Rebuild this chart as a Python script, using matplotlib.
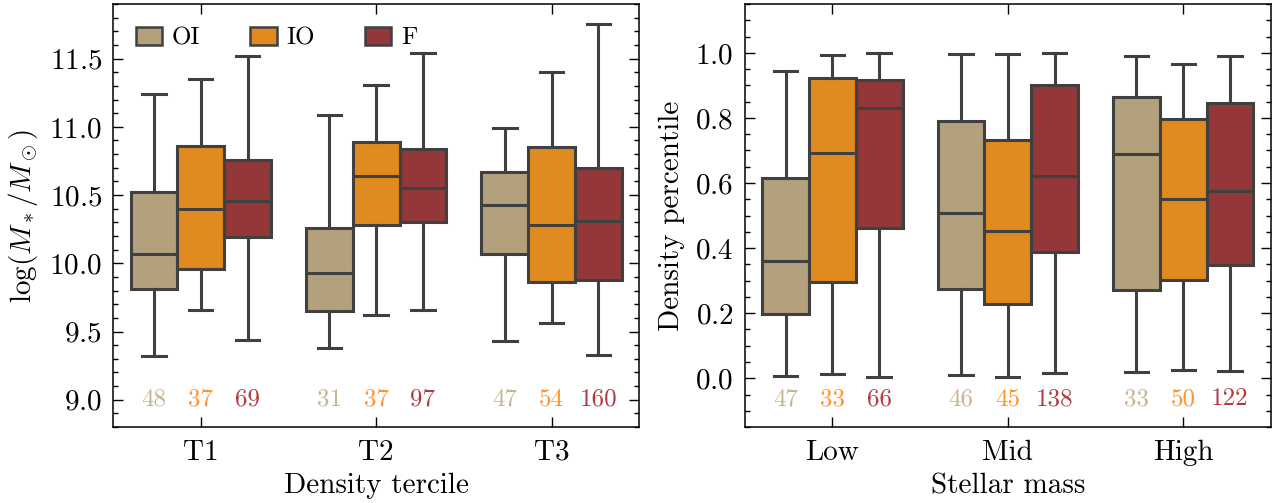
import numpy as np
import matplotlib
matplotlib.use('Agg')
import matplotlib.pyplot as plt
import matplotlib.transforms as mtransforms
from matplotlib.patches import Patch
from matplotlib.ticker import MultipleLocator

plt.rcParams.update({
    'font.family': 'serif',
    'font.serif': ['cmr10'],
    'mathtext.fontset': 'cm',
    'axes.formatter.use_mathtext': True,
    'font.size': 21,
    'axes.linewidth': 1.1,
})

# environments (hue) and their colours
hues = ['OI', 'IO', 'F']
box_colors = ['#b3a07c', '#e08a20', '#933739']
count_colors = ['#c8b491', '#ff9428', '#b23b41']
edge = '#404040'

# left panel: stellar mass per density tercile (rows = OI, IO, F)
terciles = ['T1', 'T2', 'T3']
mass_lo = [[9.32, 9.38, 9.43], [9.66, 9.62, 9.56], [9.44, 9.66, 9.33]]
mass_q1 = [[9.81, 9.65, 10.07], [9.96, 10.28, 9.86], [10.19, 10.30, 9.88]]
mass_med = [[10.07, 9.93, 10.43], [10.40, 10.64, 10.28], [10.46, 10.55, 10.31]]
mass_q3 = [[10.52, 10.26, 10.67], [10.86, 10.89, 10.85], [10.76, 10.84, 10.70]]
mass_hi = [[11.24, 11.09, 10.99], [11.35, 11.31, 11.40], [11.52, 11.54, 11.75]]
mass_counts = [[48, 31, 47], [37, 37, 54], [69, 97, 160]]

# right panel: density percentile per stellar mass bin (rows = OI, IO, F)
mass_bins = ['Low', 'Mid', 'High']
dens_lo = [[0.006, 0.009, 0.020], [0.012, 0.004, 0.026], [0.003, 0.015, 0.023]]
dens_q1 = [[0.196, 0.274, 0.272], [0.295, 0.228, 0.302], [0.462, 0.388, 0.348]]
dens_med = [[0.360, 0.508, 0.689], [0.692, 0.452, 0.550], [0.831, 0.621, 0.574]]
dens_q3 = [[0.615, 0.790, 0.865], [0.923, 0.732, 0.797], [0.917, 0.900, 0.845]]
dens_hi = [[0.945, 0.997, 0.990], [0.994, 0.997, 0.966], [0.999, 0.998, 0.990]]
dens_counts = [[47, 46, 33], [33, 45, 50], [66, 138, 122]]

width = 0.8 / len(hues)


def draw_boxes(ax, groups, lo, q1, med, q3, hi, counts):
    line = dict(color=edge, linewidth=2.2)
    trans = mtransforms.blended_transform_factory(ax.transData, ax.transAxes)
    for j, hue in enumerate(hues):
        stats = []
        pos = []
        for i in range(len(groups)):
            stats.append(dict(whislo=lo[j][i], q1=q1[j][i], med=med[j][i],
                              q3=q3[j][i], whishi=hi[j][i], fliers=[]))
            pos.append(i + (j - 1) * width)
        ax.bxp(stats, positions=pos, widths=width, capwidths=width / 2,
               patch_artist=True, showfliers=False, manage_ticks=False,
               boxprops=dict(facecolor=box_colors[j], edgecolor=edge, linewidth=2.2),
               medianprops=line, whiskerprops=line, capprops=line)
        for x, n in zip(pos, counts[j]):
            ax.text(x, 0.066, str(n), transform=trans, ha='center', va='center',
                    fontsize=18, color=count_colors[j])
    ax.set_xticks(range(len(groups)))
    ax.set_xticklabels(groups)
    ax.set_xlim(-0.5, len(groups) - 0.5)
    ax.tick_params(which='both', direction='in', top=True, right=True)
    ax.tick_params(which='major', length=7, width=1.0)
    ax.tick_params(which='minor', length=3.5, width=1.0)
    ax.tick_params(axis='x', which='minor', bottom=False, top=False)
    ax.tick_params(axis='x', pad=9)
    ax.tick_params(axis='y', pad=8)
    ax.xaxis.labelpad = 5
    ax.yaxis.labelpad = 7


fig, (ax1, ax2) = plt.subplots(1, 2, figsize=(12.74, 5.03), dpi=100)
fig.subplots_adjust(left=0.0887, right=0.9976, top=0.992, bottom=0.151, wspace=0.2)

draw_boxes(ax1, terciles, mass_lo, mass_q1, mass_med, mass_q3, mass_hi, mass_counts)
ax1.set_ylim(8.8, 11.9)
ax1.yaxis.set_major_locator(MultipleLocator(0.5))
ax1.yaxis.set_minor_locator(MultipleLocator(0.1))
ax1.set_xlabel('Density tercile')
ax1.set_ylabel(r'$\log(M_*/M_\odot)$')

draw_boxes(ax2, mass_bins, dens_lo, dens_q1, dens_med, dens_q3, dens_hi, dens_counts)
ax2.set_ylim(-0.15, 1.15)
ax2.yaxis.set_major_locator(MultipleLocator(0.2))
ax2.yaxis.set_minor_locator(MultipleLocator(0.05))
ax2.set_xlabel('Stellar mass')
ax2.set_ylabel('Density percentile')

handles = [Patch(facecolor=c, edgecolor=edge, linewidth=1.8, label=h)
           for h, c in zip(hues, box_colors)]
ax1.legend(handles=handles, loc='upper left', ncol=3, frameon=False, fontsize=18,
           handlelength=1.05, handleheight=0.75, handletextpad=0.4, columnspacing=2.0)

fig.savefig('out.png', dpi=100)
